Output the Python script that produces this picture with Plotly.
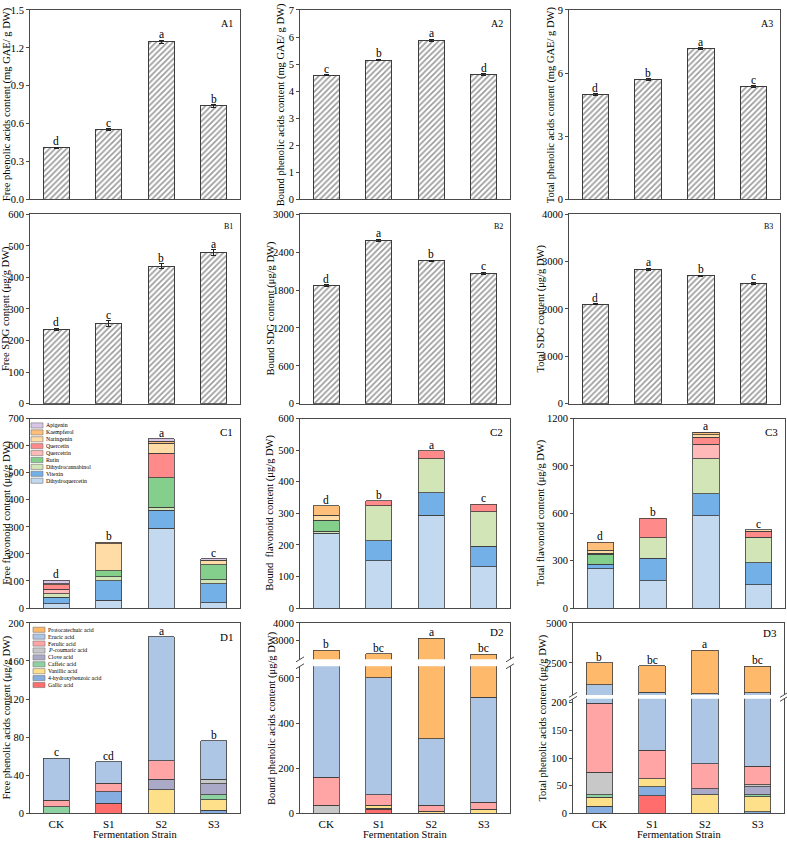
import plotly.graph_objects as go

W, H = 787, 844
FONT = "Liberation Serif"
LINE = "#4a4a4a"
EDGE = "#3c3c3c"

categories = ["CK", "S1", "S2", "S3"]

# ---------------- A: phenolic acids (mg GAE/g DW) ----------------
a1_free = [0.41, 0.555, 1.25, 0.74]
a1_err = [0.005, 0.006, 0.012, 0.010]
a1_letters = ["d", "c", "a", "b"]
a2_bound = [4.58, 5.15, 5.88, 4.61]
a2_err = [0.02, 0.03, 0.03, 0.03]
a2_letters = ["c", "b", "a", "d"]
a3_total = [4.98, 5.70, 7.15, 5.35]
a3_err = [0.03, 0.04, 0.05, 0.04]
a3_letters = ["d", "b", "a", "c"]

# ---------------- B: SDG (ug/g DW) ----------------
b1_free = [236, 254, 436, 478]
b1_err = [3, 9, 8, 10]
b1_letters = ["d", "c", "b", "a"]
b2_bound = [1870, 2583, 2262, 2065]
b2_err = [10, 20, 12, 20]
b2_letters = ["d", "a", "b", "c"]
b3_total = [2100, 2840, 2697, 2540]
b3_err = [15, 20, 20, 25]
b3_letters = ["d", "a", "b", "c"]

# ---------------- C: flavonoids (ug/g DW) ----------------
flavonoid_names = ["Apigenin", "Kaempferol", "Naringenin", "Quercetin", "Quercetrin",
                   "Rutin", "Dihydrocannabinol", "Vitexin", "Dihydroquercetin"]
flavonoid_colors = ["#D9C6E6", "#FDBF7A", "#FFDCA6", "#FF8A8A", "#FFB9B9",
                    "#85CF8C", "#D2E5B6", "#73B0E8", "#C3D9EF"]
c1_free = {
    "Apigenin": [14, 0, 10, 5],
    "Kaempferol": [3, 5, 7, 0],
    "Naringenin": [0, 101, 38, 18],
    "Quercetin": [16, 0, 90, 0],
    "Quercetrin": [18, 0, 0, 0],
    "Rutin": [0, 21, 109, 55],
    "Dihydrocannabinol": [12, 15, 10, 14],
    "Vitexin": [25, 73, 67, 71],
    "Dihydroquercetin": [15, 28, 295, 19],
}
c1_letters = ["d", "b", "a", "c"]
c2_bound = {
    "Apigenin": [0, 0, 0, 0],
    "Kaempferol": [31, 0, 0, 0],
    "Naringenin": [15, 0, 0, 0],
    "Quercetin": [0, 16, 26, 24],
    "Quercetrin": [0, 0, 0, 0],
    "Rutin": [35, 0, 0, 0],
    "Dihydrocannabinol": [7, 111, 107, 109],
    "Vitexin": [0, 64, 72, 66],
    "Dihydroquercetin": [236, 149, 293, 130],
}
c2_letters = ["d", "b", "a", "c"]
c3_total = {
    "Apigenin": [0, 0, 5, 0],
    "Kaempferol": [52, 0, 12, 0],
    "Naringenin": [19, 0, 14, 10],
    "Quercetin": [6, 123, 46, 38],
    "Quercetrin": [0, 0, 93, 0],
    "Rutin": [63, 0, 0, 0],
    "Dihydrocannabinol": [0, 129, 221, 161],
    "Vitexin": [27, 141, 138, 139],
    "Dihydroquercetin": [250, 174, 585, 148],
}
c3_letters = ["d", "b", "a", "c"]

# ---------------- D: individual phenolic acids (ug/g DW) ----------------
acid_names = ["Protocatechuic acid", "Erucic acid", "Ferulic acid", "P-coumaric acid",
              "Clove acid", "Caffeic acid", "Vanillic acid", "4-hydroxybenzoic acid", "Gallic acid"]
acid_colors = ["#FFB96A", "#AEC6E6", "#FFA5A5", "#C8C8C8", "#AAAAC8",
               "#8DD3A1", "#FFE08A", "#85ADDF", "#FF6D6D"]
d1_free = {
    "Protocatechuic acid": [0, 0, 0, 0],
    "Erucic acid": [44.2, 22.1, 130.2, 40.0],
    "Ferulic acid": [6.5, 9.3, 19.3, 0],
    "P-coumaric acid": [0, 0, 0, 5.2],
    "Clove acid": [0, 0, 11.5, 11.4],
    "Caffeic acid": [7.0, 0, 0, 5.2],
    "Vanillic acid": [0, 0, 24.5, 10.8],
    "4-hydroxybenzoic acid": [0, 11.8, 0, 3.4],
    "Gallic acid": [0, 10.7, 0, 0],
}
d1_letters = ["c", "cd", "a", "b"]
d2_bound = {
    "Protocatechuic acid": [1377, 1657, 2796, 1721],
    "Erucic acid": [907, 520, 296, 466],
    "Ferulic acid": [125, 46, 26, 31],
    "P-coumaric acid": [35, 0, 0, 0],
    "Clove acid": [0, 0, 0, 0],
    "Caffeic acid": [0, 0, 0, 0],
    "Vanillic acid": [0, 12, 9, 18],
    "4-hydroxybenzoic acid": [0, 6, 0, 0],
    "Gallic acid": [0, 17.5, 0, 0],
}
d2_letters = ["b", "bc", "a", "bc"]
d3_total = {
    "Protocatechuic acid": [1375, 1645, 2730, 1667],
    "Erucic acid": [925.6, 553, 472, 540],
    "Ferulic acid": [125, 51.5, 46, 33.2],
    "P-coumaric acid": [41, 0, 0, 4.2],
    "Clove acid": [0, 0, 10, 13.6],
    "Caffeic acid": [4.4, 0, 0, 4],
    "Vanillic acid": [16, 14.5, 34, 27],
    "4-hydroxybenzoic acid": [13, 16.5, 0, 3],
    "Gallic acid": [0, 31.5, 0, 0],
}
d3_letters = ["b", "bc", "a", "bc"]

# ---------------- layout helpers ----------------
fig = go.Figure()
layout = {}
annotations = []
shapes = []
n_axes = [0]


def px_x(p):
    return p / W


def px_y(p):
    return 1 - p / H


def add_subplot(xpx, ypx, yrange, ytickvals, yfmt=None, xlabels=False, part="full"):
    n_axes[0] += 1
    s = "" if n_axes[0] == 1 else str(n_axes[0])
    xa = dict(domain=[px_x(xpx[0]), px_x(xpx[1])], anchor="y" + s, type="category",
              categoryorder="array", categoryarray=categories, range=[-0.5, 3.5],
              showgrid=False, zeroline=False, ticks="", ticklen=0, showticklabels=xlabels,
              tickfont=dict(family=FONT, size=11, color="black"),
              showline=True, linecolor=LINE, linewidth=1, fixedrange=True)
    if part == "full":
        xa["mirror"] = True
    elif part == "upper":
        xa["side"] = "top"
    ya = dict(domain=[px_y(ypx[1]), px_y(ypx[0])], anchor="x" + s, range=yrange,
              tickvals=ytickvals, ticks="outside", ticklen=3, tickwidth=1, tickcolor=LINE,
              showline=True, mirror=True, linecolor=LINE, linewidth=1,
              showgrid=False, zeroline=False, fixedrange=True,
              tickfont=dict(family=FONT, size=10.5, color="black"))
    if yfmt:
        ya["tickformat"] = yfmt
    layout["xaxis" + s] = xa
    layout["yaxis" + s] = ya
    return "x" + s, "y" + s


def add_letters(xa, ya, tops, letters):
    for c, t, l in zip(categories, tops, letters):
        annotations.append(dict(x=c, y=t, xref=xa, yref=ya, text=l, showarrow=False,
                                yanchor="bottom", yshift=-2,
                                font=dict(family=FONT, size=11.5, color="black")))


def add_panel_label(xa, ya, text, size):
    annotations.append(dict(x=0.975, y=0.97, xref=xa + " domain", yref=ya + " domain",
                            text=text, showarrow=False, xanchor="right", yanchor="top",
                            font=dict(family=FONT, size=size, color="black")))


def add_ytitle(xpx, ypx, text):
    annotations.append(dict(x=px_x(xpx), y=px_y((ypx[0] + ypx[1]) / 2), xref="paper", yref="paper",
                            text=text, textangle=-90, showarrow=False,
                            xanchor="center", yanchor="middle",
                            font=dict(family=FONT, size=10.5, color="black")))


def hatched(xpx, ypx, vals, errs, letters, yrange, ytick, yfmt, label, lsize, title, tx):
    xa, ya = add_subplot(xpx, ypx, yrange, ytick, yfmt)
    fig.add_trace(go.Bar(
        x=categories, y=vals, xaxis=xa, yaxis=ya, width=0.5, showlegend=False,
        error_y=dict(type="data", array=errs, color="#222", thickness=1, width=2.5),
        marker=dict(color="white", line=dict(color=EDGE, width=1),
                    pattern=dict(shape="/", fgcolor="#333", bgcolor="white", size=4, solidity=0.4))))
    add_letters(xa, ya, [v + e for v, e in zip(vals, errs)], letters)
    add_panel_label(xa, ya, label, lsize)
    add_ytitle(tx, ypx, title)


def stacked_traces(xa, ya, data, names, colors):
    for name, col in zip(reversed(names), reversed(colors)):
        vals = [v if v else None for v in data[name]]
        fig.add_trace(go.Bar(x=categories, y=vals, xaxis=xa, yaxis=ya, width=0.5, name=name,
                             showlegend=False, marker=dict(color=col, line=dict(color=EDGE, width=0.8))))


def totals(data, names):
    return [sum(data[n][i] for n in names) for i in range(len(categories))]


def custom_legend(x0, y0, names, colors):
    for i, (n, c) in enumerate(zip(names, colors)):
        yc = y0 + 7 * i
        shapes.append(dict(type="rect", xref="paper", yref="paper",
                           x0=px_x(x0), x1=px_x(x0 + 12), y0=px_y(yc + 2.6), y1=px_y(yc - 2.6),
                           fillcolor=c, line=dict(color="#777", width=0.6)))
        txt = n.replace("P-", "<i>P</i>-")
        annotations.append(dict(x=px_x(x0 + 14), y=px_y(yc), xref="paper", yref="paper", text=txt,
                                showarrow=False, xanchor="left", yanchor="middle", borderpad=0,
                                font=dict(family=FONT, size=5.8, color="black")))


def break_marks(xs, ys):
    for x in xs:
        for y in ys:
            shapes.append(dict(type="line", xref="paper", yref="paper",
                               x0=px_x(x - 4), y0=px_y(y + 2.5), x1=px_x(x + 4), y1=px_y(y - 2.5),
                               line=dict(color=LINE, width=1)))


# ---------------- geometry ----------------
col1, col2, col3 = [30, 240], [300, 510], [569, 780]
rowA, rowB, rowC, rowD = [5, 197], [212, 404], [419, 611], [626, 819]

# Row A
hatched(col1, rowA, a1_free, a1_err, a1_letters, [0, 1.5], [0, 0.3, 0.6, 0.9, 1.2, 1.5], ".1f",
        "A1", 10, "Free phenolic acids content (mg GAE/ g DW)", 6.5)
hatched(col2, rowA, a2_bound, a2_err, a2_letters, [0, 7], list(range(0, 8)), None,
        "A2", 10, "Bound phenolic acids content (mg GAE/ g DW)", 280.5)
hatched(col3, rowA, a3_total, a3_err, a3_letters, [0, 9], [0, 3, 6, 9], None,
        "A3", 10, "Total phenolic acids content (mg GAE/ g DW)", 550.5)
# Row B
hatched(col1, rowB, b1_free, b1_err, b1_letters, [0, 600], list(range(0, 601, 100)), None,
        "B1", 8, "Free SDG content (μg/g DW)", 6)
hatched(col2, rowB, b2_bound, b2_err, b2_letters, [0, 3000], list(range(0, 3001, 600)), None,
        "B2", 8, "Bound SDG content (μg/g DW)", 270.5)
hatched(col3, rowB, b3_total, b3_err, b3_letters, [0, 4000], list(range(0, 4001, 1000)), None,
        "B3", 8, "Total SDG content (μg/g DW)", 540.5)

# Row C
c_specs = [
    (col1, c1_free, c1_letters, [0, 700], list(range(0, 701, 100)), "C1", "Free flavonoid content (μg/g DW)", 7.5),
    (col2, c2_bound, c2_letters, [0, 600], list(range(0, 601, 100)), "C2", "Bound  flavonoid content (μg/g DW)", 270.5),
    ([574, 785], c3_total, c3_letters, [0, 1200], list(range(0, 1201, 300)), "C3", "Total flavonoid content (μg/g DW)", 541),
]
for cx, data, letters, yr, yt, lab, title, tx in c_specs:
    xa, ya = add_subplot(cx, rowC, yr, yt)
    stacked_traces(xa, ya, data, flavonoid_names, flavonoid_colors)
    add_letters(xa, ya, totals(data, flavonoid_names), letters)
    add_panel_label(xa, ya, lab, 11)
    add_ytitle(tx, rowC, title)
custom_legend(31, 426, flavonoid_names, flavonoid_colors)

# Row D
xa, ya = add_subplot(col1, rowD, [0, 200], list(range(0, 201, 40)), xlabels=True)
stacked_traces(xa, ya, d1_free, acid_names, acid_colors)
add_letters(xa, ya, totals(d1_free, acid_names), d1_letters)
add_panel_label(xa, ya, "D1", 11)
add_ytitle(7.5, rowD, "Free phenolic acids content (μg/g DW)")
custom_legend(33, 633, acid_names, acid_colors)

# D2 with broken axis
xa, ya = add_subplot(col2, [670, 819], [0, 652], [0, 200, 400, 600], xlabels=True, part="lower")
stacked_traces(xa, ya, d2_bound, acid_names, acid_colors)
xa, ya = add_subplot(col2, [626, 663], [1945, 4000], [3000, 4000], part="upper")
stacked_traces(xa, ya, d2_bound, acid_names, acid_colors)
add_letters(xa, ya, totals(d2_bound, acid_names), d2_letters)
add_panel_label(xa, ya, "D2", 11)
add_ytitle(272, rowD, "Bound phenolic acids content (μg/g DW)")
break_marks([col2[0], col2[1]], [663, 670])

# D3 with broken axis
col3d = [573, 784]
xa, ya = add_subplot(col3d, [703, 819], [0, 207], [0, 50, 100, 150, 200], xlabels=True, part="lower")
stacked_traces(xa, ya, d3_total, acid_names, acid_colors)
xa, ya = add_subplot(col3d, [626, 699], [500, 5000], [2500, 5000], part="upper")
stacked_traces(xa, ya, d3_total, acid_names, acid_colors)
add_letters(xa, ya, totals(d3_total, acid_names), d3_letters)
add_panel_label(xa, ya, "D3", 11)
add_ytitle(543.5, rowD, "Total phenolic acids content (μg/g DW)")
break_marks([col3d[0], col3d[1]], [699, 703])

for cx in (col1, col2, col3d):
    annotations.append(dict(x=px_x((cx[0] + cx[1]) / 2), y=px_y(840.5), xref="paper", yref="paper",
                            text="Fermentation Strain", showarrow=False, xanchor="center", yanchor="middle",
                            borderpad=0, font=dict(family=FONT, size=10.5, color="black")))

fig.update_layout(**layout)
fig.update_layout(
    width=W, height=H, margin=dict(l=0, r=0, t=0, b=0),
    paper_bgcolor="white", plot_bgcolor="white", barmode="stack", showlegend=False,
    font=dict(family=FONT, color="black"),
    annotations=annotations, shapes=shapes,
)
fig.write_html("out.html", config={"displayModeBar": False},
               post_script="document.documentElement.style.overflow='hidden';"
                           "document.body.style.margin='0';document.body.style.padding='0';"
                           "document.body.style.overflow='hidden';")
